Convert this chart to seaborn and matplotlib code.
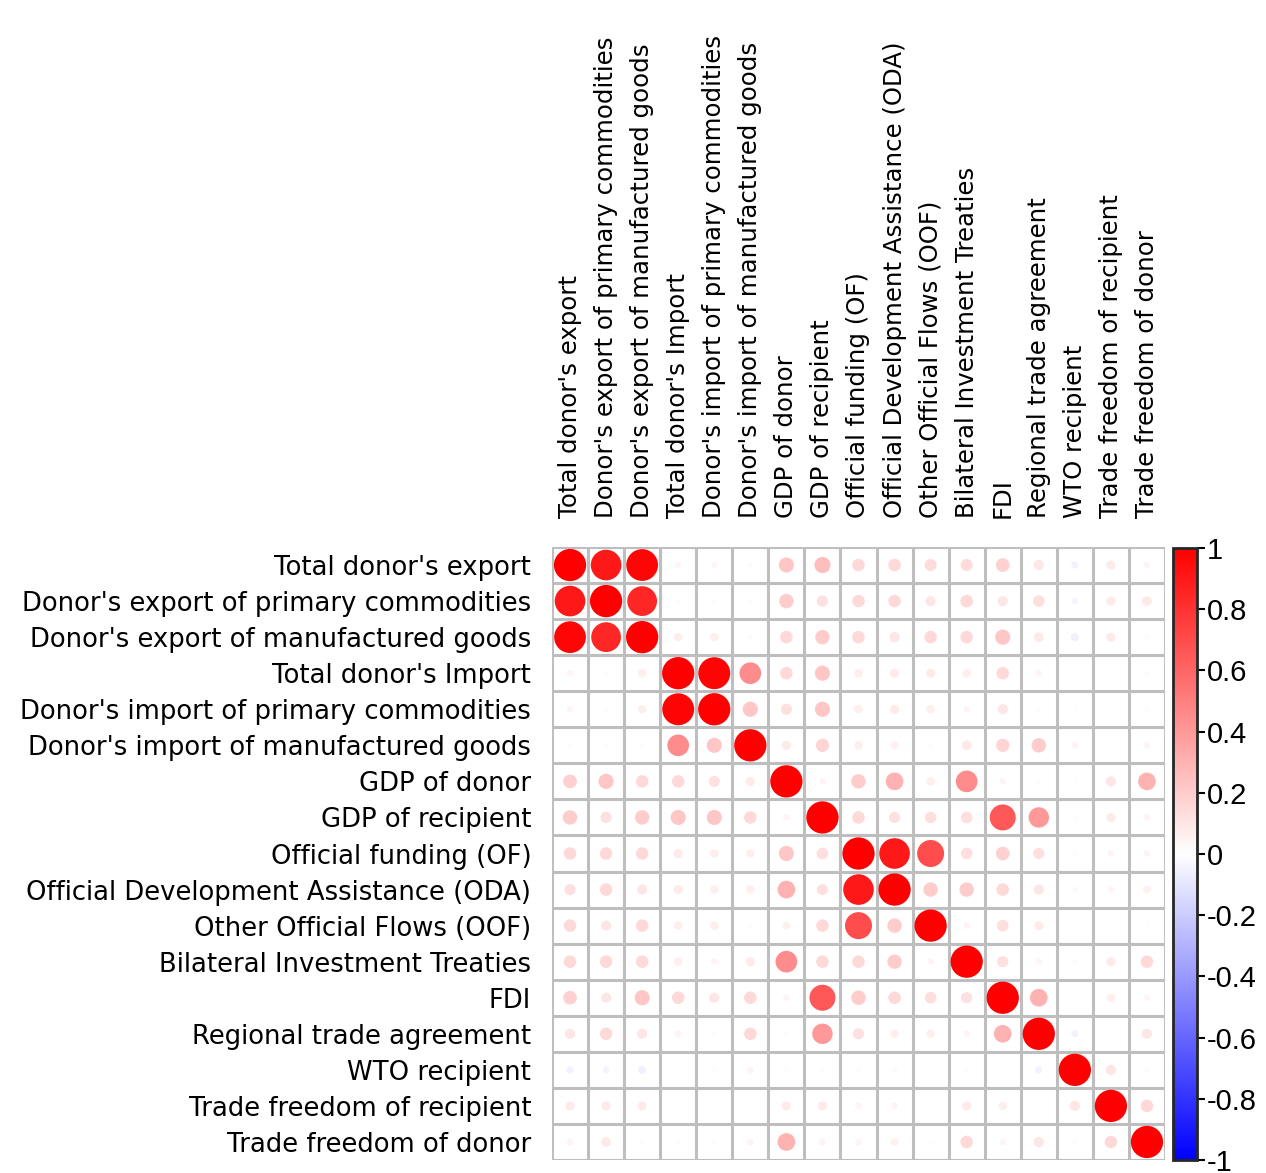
import numpy as np
import pandas as pd
import seaborn as sns
import matplotlib.pyplot as plt
from matplotlib.colors import LinearSegmentedColormap, Normalize
from matplotlib.cm import ScalarMappable

labels = ["Total donor's export",
          "Donor's export of primary commodities",
          "Donor's export of manufactured goods",
          "Total donor's Import",
          "Donor's import of primary commodities",
          "Donor's import of manufactured goods",
          "GDP of donor",
          "GDP of recipient",
          "Official funding (OF)",
          "Official Development Assistance (ODA)",
          "Other Official Flows (OOF)",
          "Bilateral Investment Treaties",
          "FDI",
          "Regional trade agreement",
          "WTO recipient",
          "Trade freedom of recipient",
          "Trade freedom of donor"]

# correlation matrix
corr = [
    [1.00, 0.90, 0.97, 0.04, 0.04, 0.02, 0.22, 0.25, 0.15, 0.15, 0.14, 0.14, 0.18, 0.10, -0.05, 0.08, 0.04],
    [0.90, 1.00, 0.85, 0.02, 0.02, 0.02, 0.20, 0.12, 0.15, 0.15, 0.10, 0.15, 0.10, 0.13, -0.04, 0.08, 0.09],
    [0.97, 0.85, 1.00, 0.07, 0.07, 0.02, 0.15, 0.20, 0.15, 0.10, 0.15, 0.15, 0.22, 0.09, -0.06, 0.08, 0.02],
    [0.04, 0.02, 0.07, 1.00, 0.98, 0.45, 0.15, 0.22, 0.07, 0.08, 0.08, 0.07, 0.15, 0.04, 0.01, 0.01, 0.02],
    [0.04, 0.02, 0.07, 0.98, 1.00, 0.22, 0.12, 0.22, 0.07, 0.08, 0.07, 0.04, 0.10, 0.02, -0.01, 0.01, 0.02],
    [0.02, 0.02, 0.02, 0.45, 0.22, 1.00, 0.08, 0.17, 0.07, 0.06, 0.02, 0.09, 0.17, 0.20, 0.04, 0.00, 0.04],
    [0.18, 0.22, 0.15, 0.15, 0.12, 0.08, 1.00, 0.04, 0.20, 0.30, 0.07, 0.45, 0.04, -0.02, -0.01, 0.10, 0.30],
    [0.20, 0.12, 0.20, 0.22, 0.22, 0.15, 0.04, 1.00, 0.15, 0.12, 0.13, 0.13, 0.65, 0.40, -0.01, 0.08, 0.04],
    [0.15, 0.15, 0.15, 0.08, 0.07, 0.07, 0.22, 0.13, 1.00, 0.90, 0.70, 0.13, 0.18, 0.12, 0.02, 0.04, 0.04],
    [0.12, 0.15, 0.10, 0.08, 0.07, 0.07, 0.30, 0.12, 0.90, 1.00, 0.20, 0.20, 0.15, 0.10, 0.03, 0.04, 0.06],
    [0.15, 0.10, 0.15, 0.07, 0.07, 0.02, 0.06, 0.15, 0.70, 0.20, 1.00, 0.04, 0.13, 0.08, 0.01, 0.01, -0.01],
    [0.15, 0.15, 0.15, 0.07, 0.04, 0.08, 0.45, 0.15, 0.15, 0.20, 0.04, 1.00, 0.12, 0.04, 0.02, 0.08, 0.15],
    [0.18, 0.10, 0.22, 0.15, 0.10, 0.15, 0.04, 0.65, 0.20, 0.15, 0.13, 0.12, 1.00, 0.30, 0.01, 0.07, 0.04],
    [0.10, 0.15, 0.10, 0.04, 0.02, 0.15, -0.02, 0.40, 0.12, 0.07, 0.07, 0.04, 0.30, 1.00, -0.05, 0.01, 0.10],
    [-0.05, -0.04, -0.06, 0.01, -0.01, 0.04, -0.01, -0.01, 0.02, 0.03, 0.01, 0.02, 0.01, -0.05, 1.00, 0.10, -0.02],
    [0.08, 0.08, 0.08, 0.01, 0.01, 0.00, 0.08, 0.08, 0.04, 0.04, 0.01, 0.08, 0.07, 0.01, 0.10, 1.00, 0.15],
    [0.04, 0.09, 0.02, 0.02, 0.02, 0.04, 0.30, 0.04, 0.04, 0.06, -0.01, 0.15, 0.04, 0.10, -0.02, 0.15, 1.00],
]
cbar_ticks = [1, 0.8, 0.6, 0.4, 0.2, 0, -0.2, -0.4, -0.6, -0.8, -1]

n = len(labels)
rows, cols = np.meshgrid(np.arange(n), np.arange(n), indexing="ij")
df = pd.DataFrame({"row": rows.ravel(), "col": cols.ravel(),
                   "r": np.array(corr).ravel()})
df["absr"] = df["r"].abs()

cmap = LinearSegmentedColormap.from_list("bwr2", ["#0000FF", "#FFFFFF", "#FF0000"])
norm = Normalize(-1, 1)

sns.set_style("white")
plt.rcParams["font.family"] = ["DejaVu Sans"]
plt.rcParams["text.color"] = "black"
plt.rcParams["xtick.color"] = "black"
plt.rcParams["ytick.color"] = "black"

fig = plt.figure(figsize=(12.66, 11.73), dpi=100)
ax = fig.add_axes([552 / 1266, 1 - 1160 / 1173, 613 / 1266, 613 / 1173])

sns.scatterplot(data=df, x="col", y="row", hue="r", hue_norm=norm, palette=cmap,
                size="absr", size_norm=(0, 1), sizes=(0, 540),
                linewidth=0, legend=False, ax=ax, zorder=3)

ax.set_xlim(-0.5, n - 0.5)
ax.set_ylim(n - 0.5, -0.5)
ax.set_xticks(np.arange(n))
ax.set_yticks(np.arange(n))
ax.set_xticks(np.arange(n + 1) - 0.5, minor=True)
ax.set_yticks(np.arange(n + 1) - 0.5, minor=True)
ax.grid(which="minor", color="#BEBEBE", linewidth=2.2)
ax.grid(which="major", visible=False)
for s in ax.spines.values():
    s.set_visible(False)
ax.xaxis.tick_top()
ax.set_xticklabels(labels, rotation=90, fontsize=17.6)
ax.set_yticklabels(labels, fontsize=18.6)
ax.tick_params(which="both", length=0)
ax.tick_params(axis="x", pad=21)
ax.tick_params(axis="y", pad=15)
ax.set_xlabel("")
ax.set_ylabel("")

# colour legend on the right
cax = fig.add_axes([1173 / 1266, 1 - 1160 / 1173, 24 / 1266, 612 / 1173])
cb = fig.colorbar(ScalarMappable(norm=norm, cmap=cmap), cax=cax, ticks=cbar_ticks)
cb.outline.set_linewidth(2)
cb.ax.set_yticklabels([f"{t:g}" for t in cbar_ticks], fontsize=21,
                      family=["Liberation Sans", "DejaVu Sans"])
cb.ax.tick_params(length=6, width=1.5, pad=1)

fig.savefig("out.png", dpi=100)
